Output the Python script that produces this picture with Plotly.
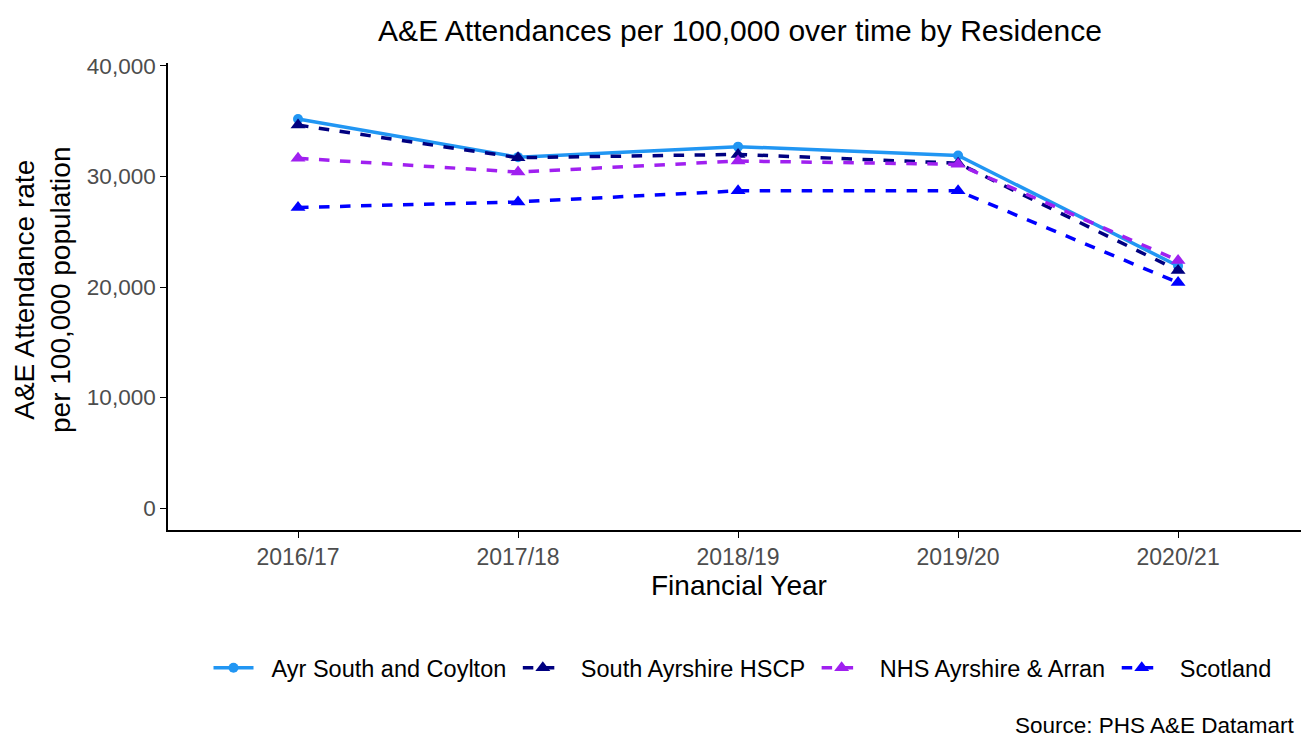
import plotly.graph_objects as go

# Daten
years = ["2016/17", "2017/18", "2018/19", "2019/20", "2020/21"]
ayr_south = [35200, 31750, 32700, 31900, 21900]
south_ayrshire = [34650, 31700, 32000, 31200, 21500]
nhs_ayrshire = [31650, 30400, 31400, 31100, 22400]
scotland = [27200, 27700, 28700, 28700, 20400]

y_ticks = [0, 10000, 20000, 30000, 40000]

series = [
    ("Ayr South and Coylton", ayr_south, "#2196F3", "solid", "circle", 10),
    ("South Ayrshire HSCP", south_ayrshire, "#000080", "dash", "triangle-up", 13),
    ("NHS Ayrshire & Arran", nhs_ayrshire, "#A020F0", "dash", "triangle-up", 13),
    ("Scotland", scotland, "#0000FF", "dash", "triangle-up", 13),
]

# Seite hat 8px Rand, daher etwas kleiner
W, H = 1301, 732
L, T, B = 160, 55, 210
plot_w = W - L
plot_h = H - T - B

NBSP = "\u00a0"

fig = go.Figure()
for name, vals, colour, dash, symbol, size in series:
    fig.add_trace(go.Scatter(
        x=list(range(len(years))),
        y=vals,
        mode="lines+markers",
        name=NBSP * 2 + name + NBSP,
        line=dict(color=colour, width=3.5, dash=dash),
        marker=dict(color=colour, symbol=symbol, size=size),
    ))

fig.update_layout(
    width=W,
    height=H,
    paper_bgcolor="white",
    plot_bgcolor="white",
    font=dict(family="Liberation Sans, Arial, sans-serif", color="black"),
    margin=dict(l=L, r=0, t=T, b=B),
    title=dict(
        text="A&E Attendances per 100,000 over time by Residence",
        x=732 / W, xanchor="center",
        y=1 - 22 / H, yanchor="middle",
        font=dict(size=30),
    ),
    xaxis=dict(
        tickmode="array",
        tickvals=list(range(len(years))),
        ticktext=years,
        range=[-0.591, 4.595],
        showline=True, linecolor="black", linewidth=1.6,
        ticks="outside", ticklen=6, tickcolor="black",
        tickfont=dict(size=23, color="#4D4D4D"),
        showgrid=False, zeroline=False,
    ),
    yaxis=dict(
        tickmode="array",
        tickvals=y_ticks,
        ticktext=[f"{v:,}" for v in y_ticks],
        range=[-1990, 40270],
        showline=True, linecolor="black", linewidth=1.6,
        ticks="outside", ticklen=6, tickcolor="black",
        tickfont=dict(size=22.5, color="#4D4D4D"),
        showgrid=False, zeroline=False,
    ),
    legend=dict(
        orientation="h",
        x=(738 - L) / plot_w, xanchor="center",
        y=-(660 - (H - B)) / plot_h, yanchor="middle",
        font=dict(size=23.5),
        itemwidth=40,
    ),
    annotations=[
        dict(
            text="Financial Year",
            xref="paper", yref="paper",
            x=(731 - L) / plot_w, y=-(577 - (H - B)) / plot_h,
            xanchor="center", yanchor="middle",
            showarrow=False, font=dict(size=28),
        ),
        dict(
            text="A&E Attendance rate<br>per 100,000 population",
            xref="paper", yref="paper",
            x=(34 - L) / plot_w, y=((H - B) - 282) / plot_h,
            xanchor="center", yanchor="middle", textangle=-90,
            showarrow=False, font=dict(size=28),
        ),
        dict(
            text="Source: PHS A&E Datamart",
            xref="paper", yref="paper",
            x=(1289 - L) / plot_w, y=-(717 - (H - B)) / plot_h,
            xanchor="right", yanchor="middle",
            showarrow=False, font=dict(size=22.5),
        ),
    ],
)

fig.write_html("out.html")
